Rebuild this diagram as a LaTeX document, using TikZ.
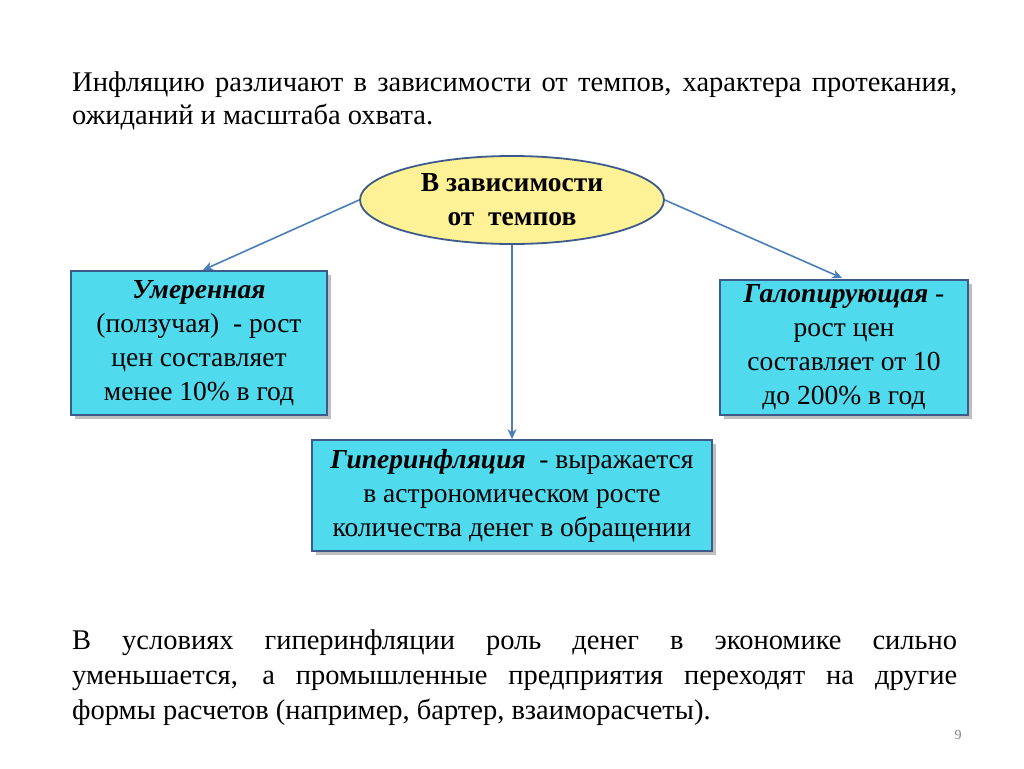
\documentclass[tikz,border=0pt]{standalone}
\usepackage{fontspec}
\setmainfont{Liberation Serif}
\usetikzlibrary{shapes.geometric,arrows.meta}
\definecolor{boxc}{RGB}{80,218,238}
\definecolor{ell}{RGB}{255,241,150}
\definecolor{edge}{RGB}{60,90,140}
\definecolor{arr}{RGB}{74,126,187}
\tikzset{
 box/.style={draw=edge,line width=1.8pt,fill=boxc,align=center,font=\fontsize{27.5}{34}\selectfont,inner sep=0pt},
 arrow/.style={draw=arr,line width=1.6pt,-{Stealth[length=10pt,width=9pt]}},
 para/.style={anchor=north west,text width=885pt,align=justify,inner sep=0pt}
}
\begin{document}
\begin{tikzpicture}[x=1pt,y=-1pt]
\useasboundingbox (0,0) rectangle (1024,768);
\node[para,font=\fontsize{28.5}{33}\selectfont] (top) at (72,72) {Инфляцию различают в зависимости от темпов, характера протекания,\linebreak ожиданий и масштаба охвата.};
\node[ellipse,draw=edge,line width=1.8pt,fill=ell,minimum width=304pt,minimum height=88pt,align=center,font=\bfseries\fontsize{27.5}{34}\selectfont] (e) at (512,200) {В зависимости\\от\ \ темпов};
\fill[gray!50] (75,275) rectangle (331,419);
\node[box,minimum width=256pt,minimum height=144pt] (l) at (199,343) {\textbf{\textit{Умеренная}}\\(ползучая)\ \ - рост\\цен составляет\\менее 10\% в год};
\fill[gray!50] (724,284) rectangle (972,419);
\node[box,minimum width=248pt,minimum height=135pt] (r) at (844,347.5) {\textbf{\textit{Галопирующая}} -\\рост цен\\составляет от 10\\до 200\% в год};
\fill[gray!50] (316,444) rectangle (716,555);
\node[box,minimum width=400pt,minimum height=111pt] (b) at (512,495.5) {\textbf{\textit{Гиперинфляция}}\ \ - выражается\\в астрономическом росте\\количества денег в обращении};
\draw[arrow] (e.west) -- (203,270);
\draw[arrow] (e.east) -- (842,278);
\draw[arrow] (e.south) -- (b.north);
\node[para,font=\fontsize{28.5}{35}\selectfont] (bot) at (72,630) {В условиях гиперинфляции роль денег в экономике сильно\linebreak уменьшается, а промышленные предприятия переходят на другие\linebreak формы расчетов (например, бартер, взаиморасчеты).};
\node[text=gray,font=\fontsize{14}{16}\selectfont] (n) at (958,735) {9};
\end{tikzpicture}
\end{document}
